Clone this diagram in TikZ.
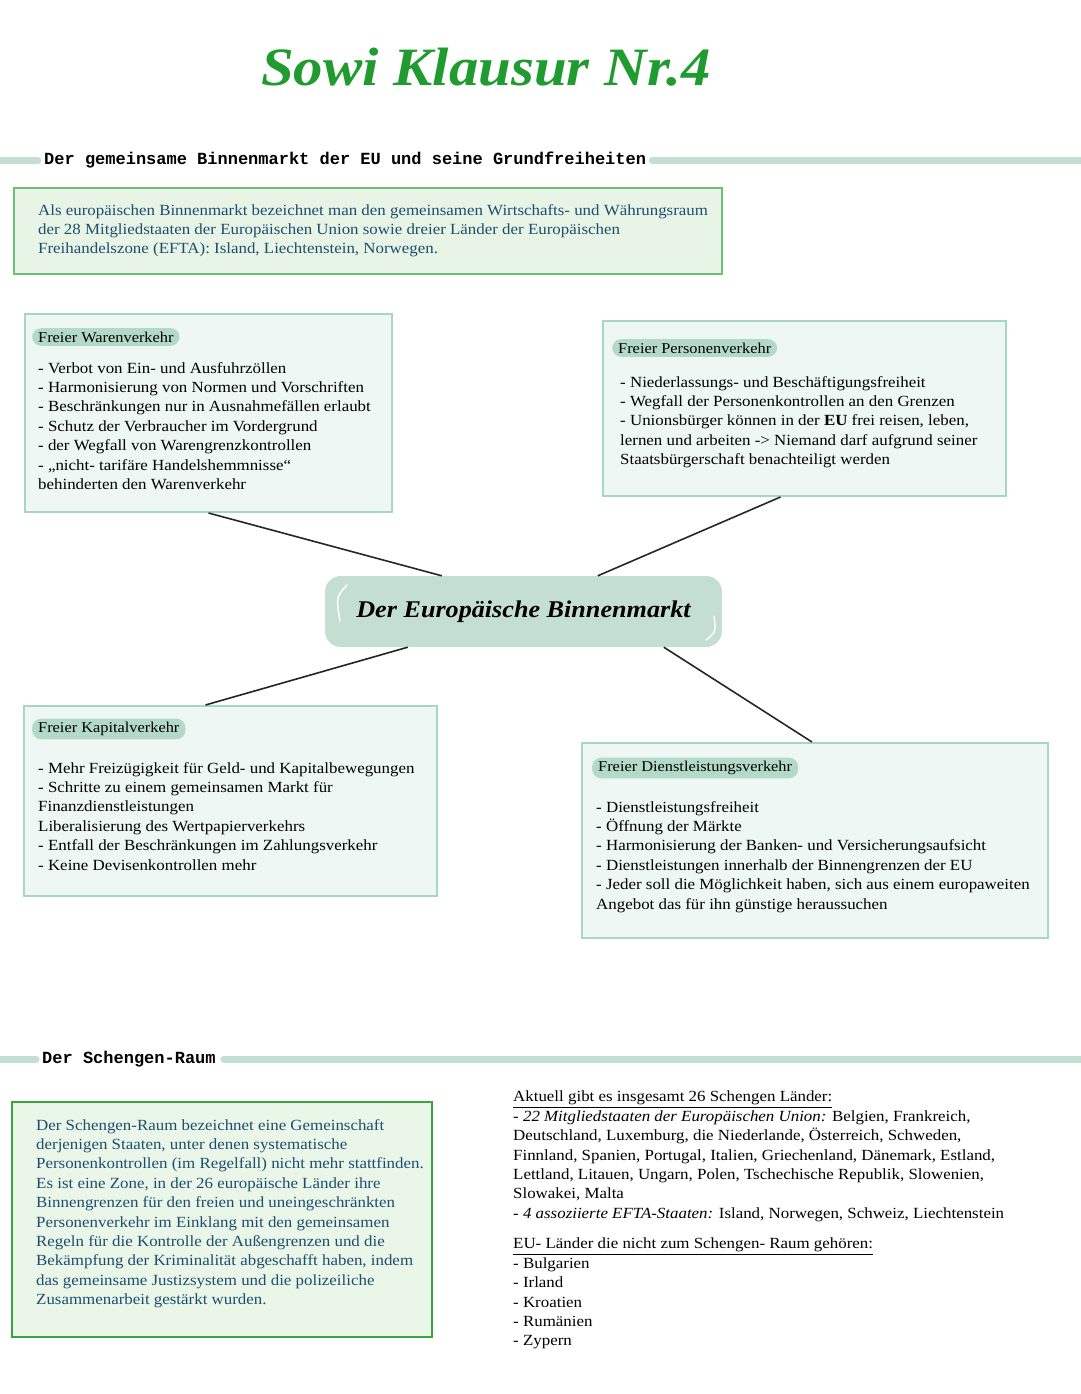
\documentclass[tikz,border=0pt]{standalone}
\usepackage{fontspec}
\setmainfont[FakeStretch=1.09]{Liberation Serif}
\setmonofont{Liberation Mono}
\definecolor{boxline}{HTML}{A6D6C4}
\definecolor{boxfill}{HTML}{EEF7F4}
\definecolor{tagfill}{HTML}{B3D9C8}
\definecolor{hubfill}{HTML}{C4DFD2}
\definecolor{barcol}{HTML}{C3DFD1}
\definecolor{introline}{HTML}{6DBE6D}
\definecolor{introfill}{HTML}{E8F5E6}
\definecolor{schline}{HTML}{3AA53A}
\definecolor{schfill}{HTML}{EAF6E8}
\definecolor{bluetext}{HTML}{1D4E6E}
\definecolor{titlegreen}{HTML}{1F9B2F}
\begin{document}
\begin{tikzpicture}[x=1pt,y=-1pt,
    fbox/.style={draw=boxline,line width=2,fill=boxfill,inner sep=0},
    tag/.style={fill=tagfill,rounded corners=9,inner xsep=6,inner ysep=3.5,anchor=west,
      font=\fontsize{15}{17}\selectfont},
    body/.style={align=left,anchor=north west,inner sep=0,
      font=\fontsize{15.5}{19.4}\selectfont},
    bar/.style={line width=7,draw=barcol,line cap=round},
    head/.style={anchor=west,inner sep=0,font=\fontsize{17}{20}\selectfont\ttfamily\bfseries},
    spoke/.style={line width=1.6,draw=black!85},
    gloss/.style={draw=white,line width=1.5,line cap=round}]
  \useasboundingbox (0,0) rectangle (1080,1394);

  % title
  \node[font=\fontsize{54}{58}\selectfont\bfseries\itshape,text=titlegreen] (title) at (486,67) {Sowi Klausur Nr.4};

  % first section
  \coordinate (b1l) at (-5,160);
  \coordinate (b1r) at (1085,160);
  \node[head] (h1) at (44,160) {Der gemeinsame Binnenmarkt der EU und seine Grundfreiheiten};
  \draw[bar] (b1l) -- ([xshift=-6]h1.west);
  \draw[bar] ([xshift=6]h1.east) -- (b1r);

  \node[fbox,draw=introline,fill=introfill,minimum width=708,minimum height=86] (intro) at (368,231) {};
  \node[body,text=bluetext] (introtext) at (38,204) {Als europäischen Binnenmarkt bezeichnet man den gemeinsamen Wirtschafts- und Währungsraum\\
    der 28 Mitgliedstaaten der Europäischen Union sowie dreier Länder der Europäischen\\
    Freihandelszone (EFTA): Island, Liechtenstein, Norwegen.};

  % the four freedoms
  \node[fbox,minimum width=367,minimum height=198] (waren) at (208.5,413) {};
  \node[tag] (warentag) at (32,337) {Freier Warenverkehr};
  \node[body] (warentext) at (38,362) {- Verbot von Ein- und Ausfuhrzöllen\\
    - Harmonisierung von Normen und Vorschriften\\
    - Beschränkungen nur in Ausnahmefällen erlaubt\\
    - Schutz der Verbraucher im Vordergrund\\
    - der Wegfall von Warengrenzkontrollen\\
    - „nicht- tarifäre Handelshemmnisse“\\
    behinderten den Warenverkehr};

  \node[fbox,minimum width=403,minimum height=175] (personen) at (804.5,408.5) {};
  \node[tag] (personentag) at (612,348) {Freier Personenverkehr};
  \node[body] (personentext) at (620,376) {- Niederlassungs- und Beschäftigungsfreiheit\\
    - Wegfall der Personenkontrollen an den Grenzen\\
    - Unionsbürger können in der \textbf{EU} frei reisen, leben,\\
    lernen und arbeiten -> Niemand darf aufgrund seiner\\
    Staatsbürgerschaft benachteiligt werden};

  \node[fbox,minimum width=413,minimum height=190] (kapital) at (230.5,801) {};
  \node[tag] (kapitaltag) at (32,729) {Freier Kapitalverkehr};
  \node[body] (kapitaltext) at (38,762) {- Mehr Freizügigkeit für Geld- und Kapitalbewegungen\\
    - Schritte zu einem gemeinsamen Markt für\\
    Finanzdienstleistungen\\
    Liberalisierung des Wertpapierverkehrs\\
    - Entfall der Beschränkungen im Zahlungsverkehr\\
    - Keine Devisenkontrollen mehr};

  \node[fbox,minimum width=466,minimum height=195] (dienst) at (815,840.5) {};
  \node[tag] (diensttag) at (592,768) {Freier Dienstleistungsverkehr};
  \node[body] (diensttext) at (596,801) {- Dienstleistungsfreiheit\\
    - Öffnung der Märkte\\
    - Harmonisierung der Banken- und Versicherungsaufsicht\\
    - Dienstleistungen innerhalb der Binnengrenzen der EU\\
    - Jeder soll die Möglichkeit haben, sich aus einem europaweiten\\
    Angebot das für ihn günstige heraussuchen};

  % centre
  \node[fill=hubfill,rounded corners=16,minimum width=397,minimum height=71,
    font=\fontsize{24}{28}\selectfont\bfseries\itshape] (bm) at (523.5,611.5) {Der Europäische Binnenmarkt};
  \draw[gloss] (347,585) .. controls (336,597) .. (340,621);
  \draw[gloss] (714,616) .. controls (716,632) .. (706,640);

  \draw[spoke] (waren.south) -- ([xshift=117]bm.north west);
  \draw[spoke] ([xshift=-24]personen.south) -- ([xshift=273]bm.north west);
  \draw[spoke] ([xshift=-25]kapital.north) -- ([xshift=83]bm.south west);
  \draw[spoke] ([xshift=-3]dienst.north) -- ([xshift=339]bm.south west);

  % second section
  \coordinate (b2l) at (-5,1059);
  \coordinate (b2r) at (1085,1059);
  \node[head] (h2) at (42,1059) {Der Schengen-Raum};
  \draw[bar] (b2l) -- ([xshift=-6]h2.west);
  \draw[bar] ([xshift=8]h2.east) -- (b2r);

  \node[fbox,draw=schline,line width=2.5,fill=schfill,minimum width=420,minimum height=235] (schengen) at (222,1219.5) {};
  \node[body,text=bluetext] (schengentext) at (36,1119) {Der Schengen-Raum bezeichnet eine Gemeinschaft\\
    derjenigen Staaten, unter denen systematische\\
    Personenkontrollen (im Regelfall) nicht mehr stattfinden.\\
    Es ist eine Zone, in der 26 europäische Länder ihre\\
    Binnengrenzen für den freien und uneingeschränkten\\
    Personenverkehr im Einklang mit den gemeinsamen\\
    Regeln für die Kontrolle der Außengrenzen und die\\
    Bekämpfung der Kriminalität abgeschafft haben, indem\\
    das gemeinsame Justizsystem und die polizeiliche\\
    Zusammenarbeit gestärkt wurden.};

  \node[body] (members) at (513,1091) {\underline{Aktuell gibt es insgesamt 26 Schengen Länder:}\\
    - \textit{22 Mitgliedstaaten der Europäischen Union:} Belgien, Frankreich,\\
    Deutschland, Luxemburg, die Niederlande, Österreich, Schweden,\\
    Finnland, Spanien, Portugal, Italien, Griechenland, Dänemark, Estland,\\
    Lettland, Litauen, Ungarn, Polen, Tschechische Republik, Slowenien,\\
    Slowakei, Malta\\
    - \textit{4 assoziierte EFTA-Staaten:} Island, Norwegen, Schweiz, Liechtenstein};
  \node[body] (outside) at (513,1238) {\underline{EU- Länder die nicht zum Schengen- Raum gehören:}\\
    - Bulgarien\\
    - Irland\\
    - Kroatien\\
    - Rumänien\\
    - Zypern};
\end{tikzpicture}
\end{document}
